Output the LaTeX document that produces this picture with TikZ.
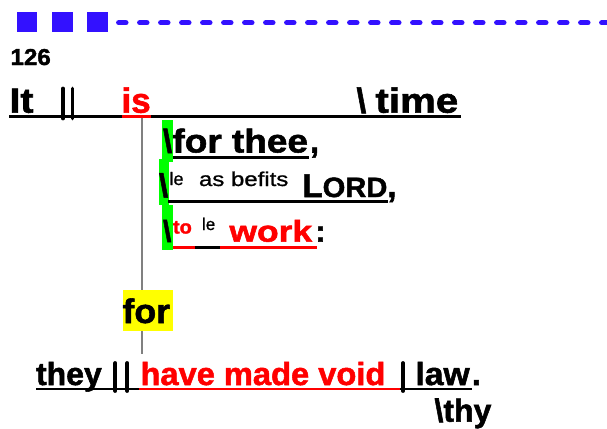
\documentclass[tikz,border=0pt]{standalone}
\usepackage{fontspec}
\usepackage{graphicx}
\setmainfont{Liberation Sans}[BoldFeatures={FakeBold=1.6}]
\newfontfamily\medfont{Liberation Sans}[FakeBold=0.9]
\definecolor{hdrblue}{RGB}{51,17,255}
\definecolor{gbar}{RGB}{0,255,0}
\definecolor{ybox}{RGB}{255,255,0}
\definecolor{redw}{RGB}{255,0,0}
\definecolor{stemgray}{RGB}{128,128,128}
\newcommand{\hsc}[2]{\scalebox{#1}[1]{#2}}
\begin{document}
\begin{tikzpicture}[x=1pt,y=-1pt,
  word/.style={anchor=base west, inner sep=0pt, outer sep=0pt},
  bw/.style={word, font=\bfseries\fontsize{#1}{#1}\selectfont},
  rw/.style={word, font=\medfont\fontsize{#1}{#1}\selectfont},
  uline/.style={line width=2.6pt},
  sepbar/.style={line width=3.8pt, line cap=round},
  greenmark/.style={fill=gbar},
]
\fill[white] (0,0) rectangle (607,428);
\useasboundingbox (0,0) rectangle (607,428);

% header
\fill[hdrblue] (16.7,11.7) rectangle (37.3,31.7);
\fill[hdrblue] (52.3,11.7) rectangle (72.7,31.7);
\fill[hdrblue] (87.3,11.7) rectangle (107.7,31.7);
\coordinate (dashL) at (118.8,22.7);
\coordinate (dashR) at (607,22.7);
\draw[hdrblue, line width=5.5pt, line cap=round, dash pattern=on 7pt off 14pt] (dashL) -- (dashR);
\node[bw=23] (num) at (10.5,65) {\hsc{1.05}{126}};

% stem
\coordinate (stemtop) at (141.7,116.7);
\coordinate (stembot) at (141.7,354.3);
\draw[stemgray, line width=1.8pt] (stemtop) -- (stembot);

% main line
\coordinate (ml) at (9.3,116.7);
\coordinate (mr) at (461,116.7);
\draw[uline] (ml) -- (mr);
\node[bw=35] (it) at (9.5,112.7) {\hsc{1.12}{It}};
\draw[sepbar] (63,88.5) -- (63,118.5);
\draw[sepbar] (72.5,88.5) -- (72.5,118.5);
\node[bw=35, text=redw] (is) at (121.5,112.7) {is};
\draw[uline, redw] (122.3,116.7) -- (151,116.7);
\node[bw=35] (bs0) at (356.5,112.7) {\textbackslash};
\node[bw=35] (time) at (375.5,112.7) {\hsc{1.15}{time}};

% row 1
\fill[greenmark] (162.3,120) rectangle (172.7,161.7);
\node[bw=33] (bs1) at (163,152.5) {\textbackslash};
\node[bw=33] (ft) at (172.5,152.5) {\hsc{1.12}{for thee}};
\node[bw=33] (c1) at (310,152.5) {,};
\draw[uline] (172.7,157.7) -- (309.3,157.7);

% row 2
\fill[greenmark] (159,159.3) rectangle (169,205);
\node[bw=33] (bs2) at (159,197) {\textbackslash};
\node[rw=18] (le2) at (169.5,185) {le};
\node[rw=20] (asb) at (199,186) {\hsc{1.2}{as befits}};
\node[bw=33] (lordL) at (302.5,197) {L};
\node[bw=28] (lordR) at (lordL.base east) {\hsc{1.04}{ORD}};
\node[bw=33] (c2) at (lordR.base east) {,};
\draw[uline] (168.3,201.7) -- (388.3,201.7);

% row 3
\fill[greenmark] (162,205) rectangle (172.7,250);
\node[bw=30] (bs3) at (163,241.5) {\textbackslash};
\node[bw=19, text=redw] (to) at (173,233.5) {\hsc{1.05}{to}};
\node[rw=17] (le3) at (202,230) {le};
\node[bw=30, text=redw] (work) at (229.5,241.7) {\hsc{1.18}{work}};
\node[bw=30] (colon) at (315.5,241.7) {:};
\draw[uline, redw] (173,247.7) -- (195,247.7);
\draw[uline] (195,247.7) -- (220,247.7);
\draw[uline, redw] (220,247.7) -- (317,247.7);

% for box
\fill[ybox] (122.7,290) rectangle (172.7,331);
\node[bw=34] (for) at (122.5,323) {\hsc{1.05}{for}};

% bottom line
\node[bw=32] (they) at (36,385) {they};
\draw[sepbar] (115.3,363) -- (115.3,391);
\draw[sepbar] (127.3,363) -- (127.3,391);
\node[bw=32, text=redw] (hmv) at (140.5,385) {\hsc{1.02}{have made void}};
\draw[sepbar] (403,363) -- (403,391);
\node[bw=32] (law) at (415.5,385) {\hsc{1.05}{law}};
\node[bw=32] (dot) at (472,385) {.};
\draw[uline] (36,389) -- (139.3,389);
\draw[uline, redw] (139.3,389) -- (400,389);
\draw[uline] (400,389) -- (471.7,389);
\node[bw=32] (thy) at (434.5,421.7) {\textbackslash thy};
\end{tikzpicture}
\end{document}
